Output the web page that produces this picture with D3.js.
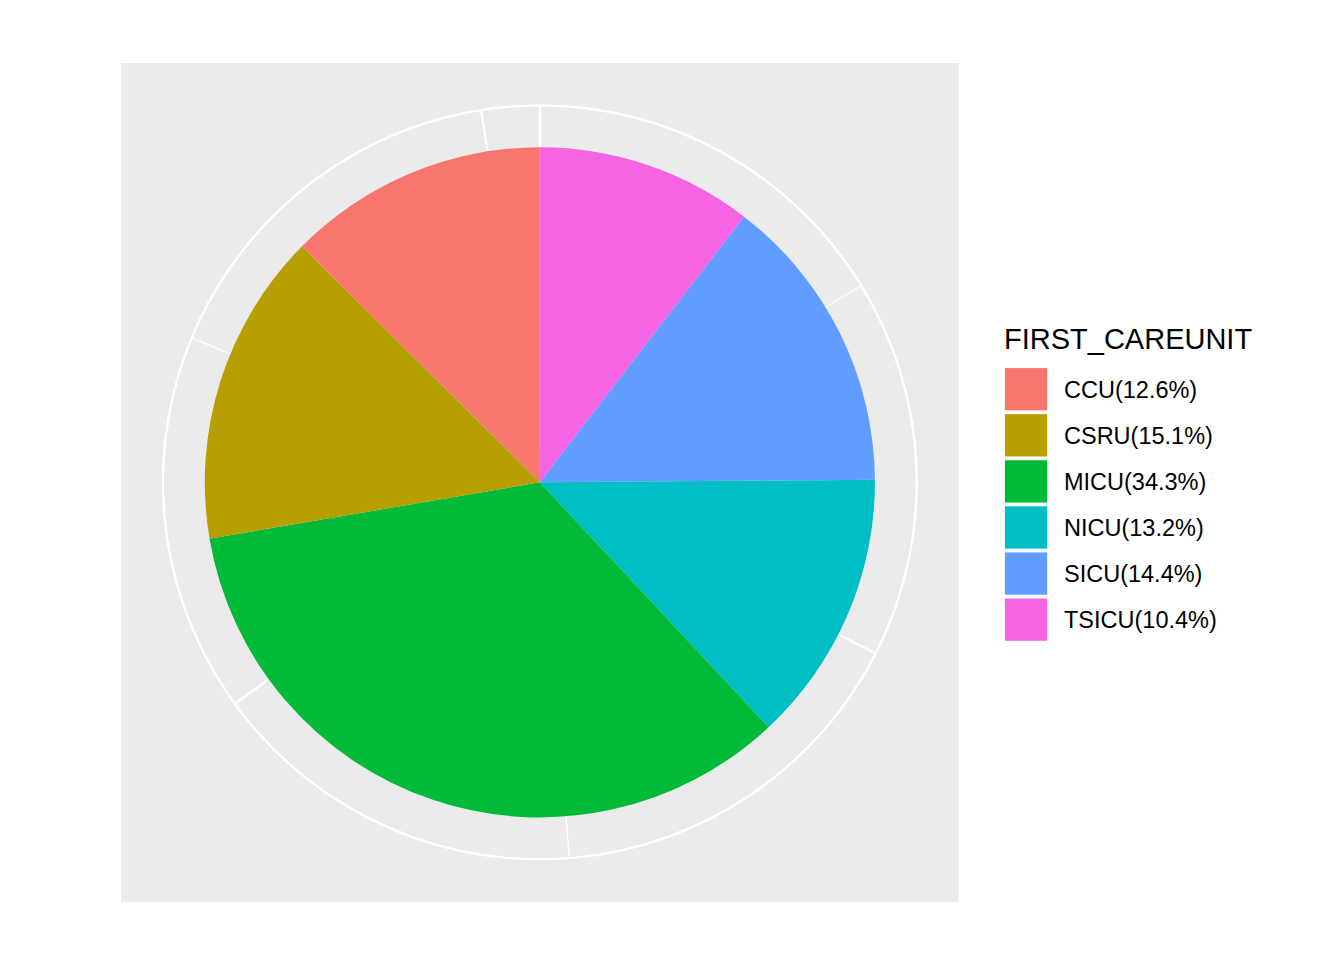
<!DOCTYPE html>
<html>
<head>
<meta charset="utf-8">
<script src="https://cdn.jsdelivr.net/npm/d3@7"></script>
<style>
  html, body { margin: 0; padding: 0; background: #ffffff; }
  svg { display: block; }
</style>
</head>
<body>
<svg id="chart" width="1344" height="960"></svg>
<script>
// ---- data ----
const categories = ["CCU", "CSRU", "MICU", "NICU", "SICU", "TSICU"];
const counts = [7726, 9312, 21087, 8100, 8891, 6416];
const colors = ["#F8766D", "#B79F00", "#00BA38", "#00BFC4", "#619CFF", "#F564E3"];
const majorBreaks = [0, 20000, 40000, 60000];
const minorBreaks = [10000, 30000, 50000];
const legendTitle = "FIRST_CAREUNIT";

// ---- layout ----
const svg = d3.select("#chart");
const panel = { x0: 121, y0: 63, x1: 958.7, y1: 901.7 };
const pw = panel.x1 - panel.x0, ph = panel.y1 - panel.y0;
const size = Math.min(pw, ph);
const cx = panel.x0 + pw / 2, cy = panel.y0 + ph / 2;
const rPie = 0.4 * size, rOuter = 0.45 * size;

const total = d3.sum(counts);
const theta = d3.scaleLinear().domain([0, total]).range([0, 2 * Math.PI]);

// panel background
svg.append("rect")
  .attr("x", panel.x0).attr("y", panel.y0)
  .attr("width", pw).attr("height", ph)
  .attr("fill", "#EBEBEB");

const g = svg.append("g").attr("transform", `translate(${cx},${cy})`);

// theta grid lines (center to 0.45)
function spoke(v, w) {
  const a = theta(v);
  g.append("line")
    .attr("x1", 0).attr("y1", 0)
    .attr("x2", rOuter * Math.sin(a)).attr("y2", -rOuter * Math.cos(a))
    .attr("stroke", "#ffffff").attr("stroke-width", w);
}
majorBreaks.forEach(v => spoke(v, 2.3));
minorBreaks.forEach(v => spoke(v, 1.15));

// outer radius circle (polyline of 100 points like ggplot)
const fine = d3.range(100).map(i => i * 2 * Math.PI / 99);
g.append("path")
  .attr("d", d3.lineRadial().angle(d => d).radius(rOuter)(fine))
  .attr("fill", "none").attr("stroke", "#ffffff").attr("stroke-width", 2.3);

// stacked slices: last category first clockwise from top
const order = d3.range(categories.length).reverse();
let cum = 0;
const slices = order.map(i => {
  const s = { i, start: cum, end: cum + counts[i] };
  cum += counts[i];
  return s;
});
const arc = d3.arc().innerRadius(0).outerRadius(rPie);
g.selectAll("path.slice").data(slices).enter().append("path")
  .attr("class", "slice")
  .attr("d", d => arc({ startAngle: theta(d.start), endAngle: theta(d.end) }))
  .attr("fill", d => colors[d.i]);

// ---- legend ----
const fmt = d3.format(".1f");
const labels = categories.map((c, i) => `${c}(${fmt(counts[i] / total * 100)}%)`);
const leg = svg.append("g");
leg.append("text")
  .attr("x", 1004).attr("y", 349)
  .attr("font-family", "Liberation Sans, Arial, Helvetica, sans-serif")
  .attr("font-size", 29).attr("fill", "#000000")
  .text(legendTitle);

const keyTop = 366.2, keyH = 46.08, keyX = 1003, inset = 1.9;
categories.forEach((c, i) => {
  const y = keyTop + i * keyH;
  leg.append("rect")
    .attr("x", keyX).attr("y", y).attr("width", keyH).attr("height", keyH)
    .attr("fill", "#ffffff");
  leg.append("rect")
    .attr("x", keyX + inset).attr("y", y + inset)
    .attr("width", keyH - 2 * inset).attr("height", keyH - 2 * inset)
    .attr("fill", colors[i]);
  leg.append("text")
    .attr("x", 1064).attr("y", y + keyH / 2 + 8.3)
    .attr("font-family", "Liberation Sans, Arial, Helvetica, sans-serif")
    .attr("font-size", 23.5).attr("fill", "#000000")
    .text(labels[i]);
});
</script>
</body>
</html>
